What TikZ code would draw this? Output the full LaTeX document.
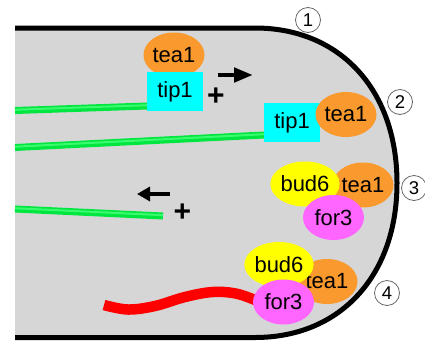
\documentclass[tikz,border=0pt]{standalone}
\usepackage{fontspec}
\setmainfont{Liberation Sans}
\usetikzlibrary{shapes.geometric,arrows.meta}

\definecolor{cellgray}{RGB}{214,214,214}
\definecolor{teaorange}{RGB}{250,153,45}
\definecolor{tipcyan}{RGB}{0,255,255}
\definecolor{budyellow}{RGB}{255,255,0}
\definecolor{formagenta}{RGB}{255,102,255}
\definecolor{mtgreen}{RGB}{0,230,64}
\definecolor{mtlight}{RGB}{60,250,110}
\definecolor{actinred}{RGB}{255,0,0}

\tikzset{
  protein/.style={ellipse, inner sep=0pt, minimum width=61pt, minimum height=45pt,
    font=\fontsize{22}{25}\selectfont},
  tea/.style={protein, fill=teaorange},
  bud/.style={protein, fill=budyellow},
  formin/.style={protein, fill=formagenta},
  tipbox/.style={rectangle, fill=tipcyan, inner sep=0pt, minimum width=56pt,
    minimum height=39pt, font=\fontsize{22}{25}\selectfont},
  stage/.style={circle, draw=black!60, line width=0.8pt, inner sep=0pt,
    minimum size=25pt, font=\fontsize{18.5}{20}\selectfont},
  mt/.style={line width=7pt, mtgreen},
  mthi/.style={line width=2pt, mtlight},
  motion/.style={line width=4.6pt, black},
  plusend/.style={inner sep=0pt, font=\fontsize{30}{30}\selectfont\bfseries},
  membrane/.style={line width=5pt, black},
}

\begin{document}
\begin{tikzpicture}[x=1pt, y=-1pt]
\useasboundingbox (0,0) rectangle (425,341);

% cell body with a rounded growing tip
\fill[cellgray] (15,28) -- (255,28)
  .. controls (340.2,28) and (397,90) .. (397,183)
  .. controls (397,275.7) and (340.2,337.5) .. (255,337.5)
  -- (15,337.5) -- cycle;
\draw[membrane] (15,28) -- (255,28)
  .. controls (340.2,28) and (397,90) .. (397,183)
  .. controls (397,275.7) and (340.2,337.5) .. (255,337.5)
  -- (15,337.5);

% microtubule end points
\coordinate (mt1a) at (15,110.5);
\coordinate (mt1b) at (147,106);
\coordinate (mt2a) at (15,147.5);
\coordinate (mt2b) at (264,135);
\coordinate (mt3a) at (15,209);
\coordinate (mt3b) at (163,216);

% microtubules
\draw[mt] (mt1a) -- (mt1b);
\draw[mthi] ([yshift=0.8pt]mt1a) -- ([yshift=0.8pt]mt1b);
\draw[mt] (mt2a) -- (mt2b);
\draw[mthi] ([yshift=0.8pt]mt2a) -- ([yshift=0.8pt]mt2b);
\draw[mt] (mt3a) -- (mt3b);
\draw[mthi] ([yshift=0.8pt]mt3a) -- ([yshift=0.8pt]mt3b);

% stage 1: tip1 carries tea1 along a growing microtubule
\node[tea] (tea1a) at (174,55) {tea1};
\node[tipbox] (tip1a) at (175,91.5) {tip1};
\coordinate (arrAs) at (218,75);
\coordinate (arrAe) at (253,75);
\draw[motion, -{Triangle[length=19pt,width=14pt]}] (arrAs) -- (arrAe);
\node[plusend] (plusA) at (216,97) {+};

% stage 2: arrival at the cell tip
\node[tipbox] (tip1b) at (292,122.5) {tip1};
\node[tea] (tea1b) at (346,114.5) {tea1};

% stage 3: shrinking microtubule, tea1 recruits bud6 and for3
\coordinate (arrBs) at (170,194);
\coordinate (arrBe) at (137,194);
\draw[motion, -{Triangle[length=13pt,width=14pt]}] (arrBs) -- (arrBe);
\node[plusend] (plusB) at (182.5,213) {+};
\node[tea] (tea1c) at (363,185) {tea1};
\node[bud] (bud6c) at (305,184) {bud6};
\node[formin] (for3c) at (333.5,217.5) {for3};

% stage 4: for3 nucleates an actin cable
\node[tea] (tea1d) at (327,281.5) {tea1};
\node[bud] (bud6d) at (279,264.5) {bud6};
\draw[line width=10.5pt, actinred] plot[smooth, tension=0.6] coordinates
  {(104,305) (128,309.5) (155,306) (185,297) (213,292) (238,294) (262,303)};
\node[formin] (for3d) at (283.5,302) {for3};

% stage numbers
\node[stage] (s1) at (308,20) {1};
\node[stage] (s2) at (400,102) {2};
\node[stage] (s3) at (414,188) {3};
\node[stage] (s4) at (387,293) {4};
\end{tikzpicture}
\end{document}
